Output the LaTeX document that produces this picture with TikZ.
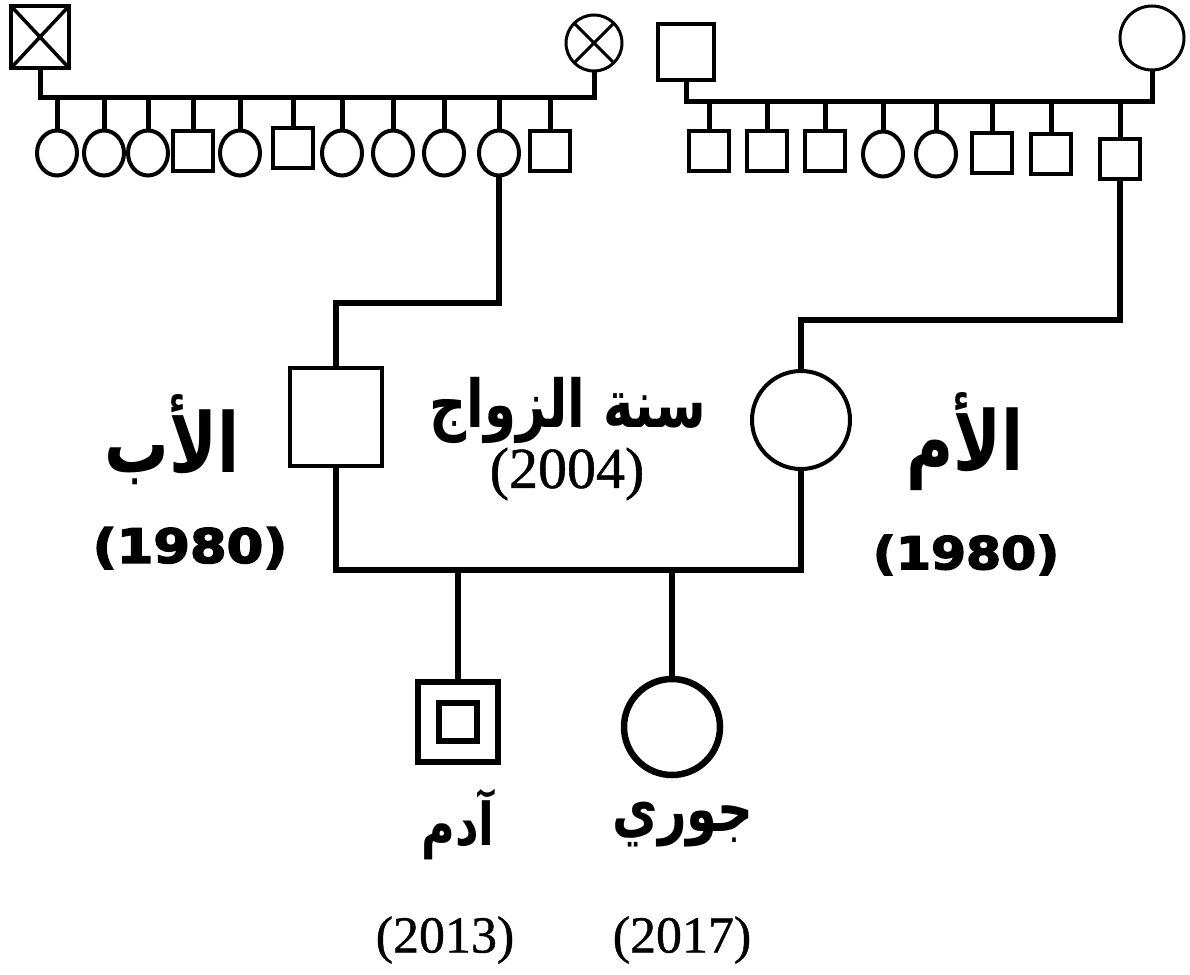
\documentclass[tikz,border=0pt]{standalone}
\usepackage{fontspec}
\usetikzlibrary{shapes.geometric}
\TeXXeTstate=1
\newfontfamily\arabicfont[Script=Arabic]{DejaVu Sans}
\newfontfamily\numfont[FakeBold=0.8]{Liberation Serif}
\newfontfamily\heavyfont[FakeStretch=1.12,FakeBold=3.5]{DejaVu Sans Bold}
\newcommand{\artext}[1]{\scalebox{0.92}[1.18]{\arabicfont\bfseries\beginR #1\endR}}
\begin{document}
\begin{tikzpicture}[x=1pt,y=-1pt,
  every node/.style={outer sep=0pt, inner sep=0pt},
  malS/.style={draw, rectangle, line width=4pt, minimum width=#1, minimum height=#1},
  malS/.default=40,
  femS/.style={draw, ellipse, line width=4pt, minimum width=40, minimum height=45},
  topline/.style={line width=5pt},
  mainline/.style={line width=6.5pt},
  arlab/.style={font=\fontsize{#1}{#1}\selectfont},
]
\useasboundingbox (0,0) rectangle (1190,974);
\fill[white] (0,0) rectangle (1190,974);

% ---------- top left family ----------
\node[draw, rectangle, line width=3.5pt, minimum width=58, minimum height=62] (gfL) at (40,37) {};
\draw[line width=3.5pt] (gfL.north west) -- (gfL.south east) (gfL.north east) -- (gfL.south west);
\node[draw, circle, line width=3pt, minimum size=56] (gmL) at (594,43) {};
\draw[line width=3pt] (gmL.north west) -- (gmL.south east) (gmL.north east) -- (gmL.south west);
\coordinate (sibL) at (0,97);
\draw[topline] (gfL.south) -- (gfL.south |- sibL) -- (gmL.south |- sibL) -- (gmL.south);

\foreach \n/\x/\s/\yy in {1/57/femS/153, 2/104/femS/153, 3/148/femS/153, 4/193/malS/151,
  5/240/femS/153, 6/293/malS/148, 7/342/femS/153, 8/393/femS/153, 9/444/femS/153,
  10/499/femS/153, 11/550/malS/151}{
  \node[\s] (tl\n) at (\x,\yy) {};
  \draw[topline] (tl\n.north |- sibL) -- (tl\n.north);
}

% ---------- top right family ----------
\node[draw, rectangle, line width=3.5pt, minimum width=56, minimum height=56] (gfR) at (686,52) {};
\node[draw, circle, line width=3pt, minimum size=64] (gmR) at (1152,38) {};
\coordinate (sibR) at (0,101);
\draw[topline] (gfR.south) -- (gfR.south |- sibR) -- (gmR.south |- sibR) -- (gmR.south);

\foreach \n/\x/\s/\yy in {1/709/malS/151, 2/767/malS/151, 3/825/malS/151, 4/883/femS/154,
  5/936/femS/154, 6/992/malS/153, 7/1051/malS/154, 8/1120/malS/159}{
  \node[\s] (tr\n) at (\x,\yy) {};
  \draw[topline] (tr\n.north |- sibR) -- (tr\n.north);
}

% ---------- parents ----------
\node[draw, rectangle, line width=4pt, minimum width=92, minimum height=98] (father) at (336,417) {};
\node[draw, circle, line width=4pt, minimum size=98] (mother) at (801,420) {};
\coordinate (elbL) at (0,303);
\coordinate (elbR) at (0,320);
\draw[mainline] (tl10.south) -- (tl10.south |- elbL) -- (father.north |- elbL) -- (father.north);
\draw[mainline] (tr8.south) -- (tr8.south |- elbR) -- (mother.north |- elbR) -- (mother.north);

\coordinate (mar) at (0,570);
\draw[mainline] (father.south) -- (father.south |- mar) -- (mother.south |- mar) -- (mother.south);

% ---------- children ----------
\node[draw, rectangle, line width=6.5pt, minimum width=80, minimum height=80] (adam) at (458,722) {};
\node[draw, rectangle, line width=6pt, minimum width=38, minimum height=38] (adamin) at (458,722) {};
\node[draw, circle, line width=6.5pt, minimum size=96] (jouri) at (672,727) {};
\draw[mainline] (adam.north |- mar) -- (adam.north);
\draw[mainline] (jouri.north |- mar) -- (jouri.north);

% ---------- labels ----------
\node[arlab=56] (marlab) at (568,410) {\artext{سنة الزواج}};
\node[font=\numfont\fontsize{58}{58}\selectfont] (maryear) at (567,474) {(2004)};

\node[arlab=70] (fatherlab) at (172,440) {\artext{الأب}};
\node[font=\heavyfont\fontsize{47}{47}\selectfont] (fatheryear) at (190,548) {(1980)};
\node[arlab=70] (motherlab) at (965,442) {\artext{الأم}};
\node[font=\heavyfont\fontsize{45}{45}\selectfont] (motheryear) at (966,555) {(1980)};

\node[arlab=50] (adamlab) at (458,825) {\artext{آدم}};
\node[arlab=54] (jourilab) at (683,825) {\artext{جوري}};
\node[font=\numfont\fontsize{52}{52}\selectfont] (adamyear) at (445,940) {(2013)};
\node[font=\numfont\fontsize{52}{52}\selectfont] (jouriyear) at (682,940) {(2017)};
\end{tikzpicture}
\end{document}
